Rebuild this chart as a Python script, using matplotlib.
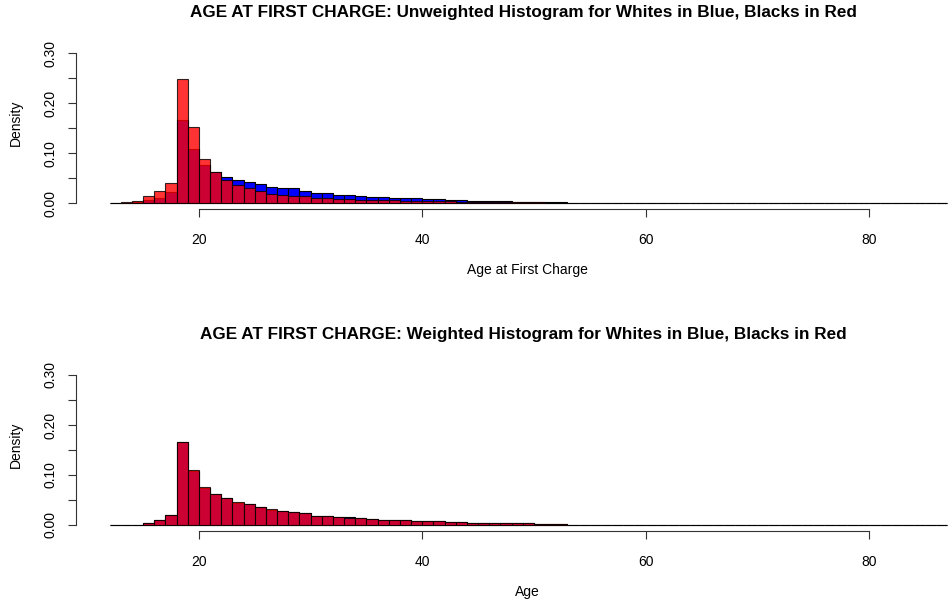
import numpy as np
import matplotlib
matplotlib.use("Agg")
import matplotlib.pyplot as plt

plt.rcParams['font.family'] = ['Liberation Sans', 'DejaVu Sans']

# Age bins (left edges, width 1 year)
ages = list(range(12, 87))

# Unweighted densities
white_unw = [0.0005, 0.001, 0.002, 0.007, 0.011, 0.022, 0.167, 0.108, 0.077, 0.062,
             0.053, 0.047, 0.042, 0.038, 0.033, 0.031, 0.030, 0.025, 0.021, 0.020,
             0.017, 0.016, 0.015, 0.013, 0.013, 0.011, 0.010, 0.010, 0.009, 0.008,
             0.007, 0.006, 0.005, 0.0047, 0.005, 0.0045, 0.0033, 0.003, 0.0025, 0.002,
             0.0018, 0.0015, 0.0012, 0.001, 0.0009, 0.0008, 0.0006, 0.0005, 0.0004, 0.0003,
             0.0003, 0.0002, 0.0002, 0.0002, 0.00015, 0.00015, 0.0001, 0.0001, 0.0001, 0.0001,
             0.00008, 0.00008, 0.00006, 0.00006, 0.00005, 0.00005, 0.00004, 0.00004, 0.0, 0.00003,
             0.00003, 0.00002, 0.00002, 0.0, 0.00002]
black_unw = [0.0008, 0.002, 0.004, 0.015, 0.024, 0.040, 0.248, 0.152, 0.089, 0.063,
             0.046, 0.036, 0.030, 0.024, 0.019, 0.017, 0.015, 0.014, 0.011, 0.010,
             0.009, 0.008, 0.007, 0.007, 0.006, 0.006, 0.005, 0.005, 0.005, 0.0045,
             0.004, 0.0035, 0.003, 0.003, 0.003, 0.0028, 0.0025, 0.002, 0.0018, 0.0015,
             0.0012, 0.001, 0.0009, 0.0008, 0.0006, 0.0005, 0.0004, 0.0004, 0.0003, 0.0002,
             0.0002, 0.00015, 0.00015, 0.0001, 0.0001, 0.0001, 0.00008, 0.00006, 0.00006, 0.00005,
             0.00005, 0.00004, 0.00004, 0.00003, 0.00003, 0.00002, 0.0, 0.00002, 0.0, 0.00002,
             0.0, 0.00001, 0.0, 0.0, 0.00001]

# Weighted densities
white_w = [0.0002, 0.0005, 0.001, 0.005, 0.010, 0.021, 0.167, 0.109, 0.075, 0.062,
           0.055, 0.045, 0.042, 0.037, 0.031, 0.029, 0.027, 0.025, 0.019, 0.018,
           0.016, 0.016, 0.015, 0.013, 0.011, 0.011, 0.010, 0.009, 0.009, 0.008,
           0.007, 0.006, 0.005, 0.005, 0.004, 0.0045, 0.004, 0.0035, 0.003, 0.0027,
           0.0015, 0.001, 0.001, 0.0008, 0.0007, 0.0006, 0.0005, 0.0004, 0.0003, 0.0003,
           0.0002, 0.0002, 0.00015, 0.00015, 0.0001, 0.0001, 0.0001, 0.00008, 0.00008, 0.00006,
           0.00006, 0.00005, 0.00005, 0.00004, 0.00004, 0.00003, 0.00003, 0.00002, 0.0, 0.00002,
           0.00002, 0.00001, 0.0, 0.0, 0.00001]
black_w = [0.0002, 0.0005, 0.001, 0.005, 0.010, 0.021, 0.166, 0.111, 0.076, 0.062,
           0.055, 0.046, 0.042, 0.037, 0.032, 0.029, 0.027, 0.024, 0.019, 0.018,
           0.016, 0.015, 0.015, 0.013, 0.011, 0.011, 0.010, 0.009, 0.009, 0.008,
           0.007, 0.006, 0.005, 0.005, 0.004, 0.0045, 0.004, 0.0035, 0.003, 0.0027,
           0.0015, 0.001, 0.001, 0.0008, 0.0007, 0.0006, 0.0005, 0.0004, 0.0003, 0.0003,
           0.0002, 0.0002, 0.00015, 0.00015, 0.0001, 0.0001, 0.0001, 0.00008, 0.00008, 0.00006,
           0.00006, 0.00005, 0.00005, 0.00004, 0.00004, 0.00003, 0.00003, 0.00002, 0.0, 0.00002,
           0.00002, 0.00001, 0.0, 0.0, 0.00001]

x_ticks = [20, 40, 60, 80]
y_ticks = [0.0, 0.05, 0.10, 0.15, 0.20, 0.25, 0.30]
y_labels = ['0.00', '', '0.10', '', '0.20', '', '0.30']

W, H = 953, 605
fig = plt.figure(figsize=(W / 100, H / 100), dpi=100)

left_px, right_px = 76, 953
x_left, x_right = 9.0, 87.53


def draw_panel(top_px, bottom_px, white, black, title, xlabel):
    ax = fig.add_axes([left_px / W, 1 - bottom_px / H,
                       (right_px - left_px) / W, (bottom_px - top_px) / H])
    ax.bar(ages, white, width=1, align='edge', color='blue',
           edgecolor='black', linewidth=0.8)
    ax.bar(ages, black, width=1, align='edge', color=(1, 0, 0, 0.8),
           edgecolor=(0, 0, 0, 0.8), linewidth=0.8)
    ax.set_xlim(x_left, x_right)
    ax.set_ylim(-0.012, 0.312)
    for s in ['top', 'right']:
        ax.spines[s].set_visible(False)
    ax.spines['bottom'].set_bounds(20, 80)
    ax.spines['left'].set_bounds(0, 0.30)
    for s in ['bottom', 'left']:
        ax.spines[s].set_linewidth(0.8)
        ax.spines[s].set_color('#333333')
    ax.set_xticks(x_ticks)
    ax.set_xticklabels([str(t) for t in x_ticks])
    ax.set_yticks(y_ticks)
    ax.set_yticklabels(y_labels, rotation=90, va='center')
    ax.tick_params(length=6, width=0.8, color='#333333', labelsize=10)
    ax.tick_params(axis='x', pad=11)
    ax.tick_params(axis='y', pad=7.5)
    cx = 523 / W
    fig.text(cx, 1 - (top_px - 35) / H, title, ha='center', va='center',
             fontsize=12.3, fontweight='bold')
    fig.text(cx + 4 / W, 1 - (bottom_px + 61) / H, xlabel, ha='center', va='center',
             fontsize=10)
    fig.text(16 / W, 1 - ((top_px + bottom_px) / 2 - 5) / H, 'Density',
             rotation=90, ha='center', va='center', fontsize=10)
    return ax


draw_panel(47.3, 209.3, white_unw, black_unw,
           'AGE AT FIRST CHARGE: Unweighted Histogram for Whites in Blue, Blacks in Red',
           'Age at First Charge')
draw_panel(369, 531, white_w, black_w,
           'AGE AT FIRST CHARGE: Weighted Histogram for Whites in Blue, Blacks in Red',
           'Age')

fig.savefig('out.png', dpi=100)
